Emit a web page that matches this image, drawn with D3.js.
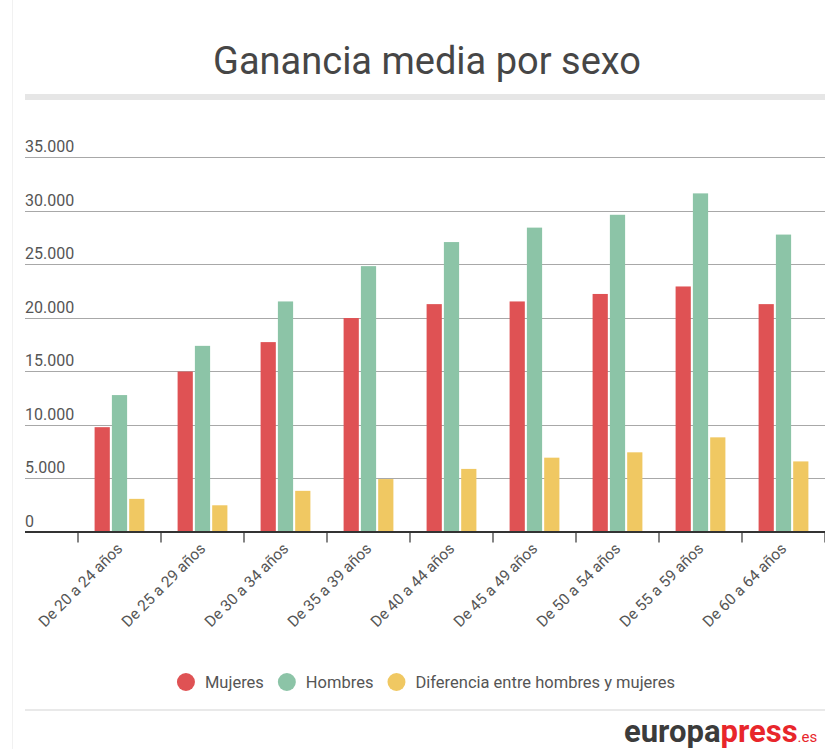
<!DOCTYPE html>
<html>
<head>
<meta charset="utf-8">
<script src="https://cdn.jsdelivr.net/npm/d3@7"></script>
<style>
  html, body { margin: 0; padding: 0; background: #fff; }
  svg { display: block; font-family: Roboto, "Noto Sans", sans-serif; }
</style>
</head>
<body>
<div id="main"></div>
<script>
// datos
const categories = ["De 20 a 24 años", "De 25 a 29 años", "De 30 a 34 años", "De 35 a 39 años",
    "De 40 a 44 años", "De 45 a 49 años", "De 50 a 54 años", "De 55 a 59 años", "De 60 a 64 años"];
const mujeres    = [9750, 14950, 17700, 19950, 21250, 21500, 22200, 22900, 21250];
const hombres    = [12750, 17350, 21500, 24800, 27050, 28400, 29600, 31600, 27750];
const diferencia = [3050, 2450, 3800, 4900, 5850, 6900, 7400, 8800, 6550];
const seriesNames = ["Mujeres", "Hombres", "Diferencia entre hombres y mujeres"];
const yTicks = [0, 5000, 10000, 15000, 20000, 25000, 30000, 35000];

const width = 825, height = 749;
const colors = ["#df5254", "#8cc4a7", "#f0c862"];

const locale = d3.formatLocale({ decimal: ",", thousands: ".", grouping: [3], currency: ["", "€"] });
const fmt = locale.format(",");

const svg = d3.select("#main").append("svg")
    .attr("width", width)
    .attr("height", height);

svg.append("rect").attr("width", width).attr("height", height).attr("fill", "#fff");

// borde izquierdo tenue
svg.append("line")
    .attr("x1", 12.5).attr("x2", 12.5)
    .attr("y1", 0).attr("y2", height)
    .attr("stroke", "#f1f1f1");

// titulo
svg.append("text")
    .attr("x", 427)
    .attr("y", 74)
    .attr("text-anchor", "middle")
    .attr("font-size", 38)
    .attr("fill", "#464646")
    .text("Ganancia media por sexo");

svg.append("rect")
    .attr("x", 25).attr("y", 94)
    .attr("width", 800).attr("height", 6)
    .attr("fill", "#e6e6e6");

let y = d3.scaleLinear()
    .domain([0, 35000])
    .range([531.5, 157]);

let x0 = d3.scaleBand()
    .domain(categories)
    .range([78, 825])
    .paddingInner(0.4)
    .paddingOuter(0.2);

let x1 = d3.scaleBand()
    .domain(d3.range(3))
    .range([0, x0.bandwidth()])
    .paddingInner(0.12);

// rejilla
let grid = svg.append("g").attr("class", "grid");
grid.selectAll("line")
    .data(yTicks.filter(d => d > 0))
    .enter()
    .append("line")
    .attr("x1", 25).attr("x2", width)
    .attr("y1", d => Math.round(y(d)) + 0.5)
    .attr("y2", d => Math.round(y(d)) + 0.5)
    .attr("stroke", "#a8a8a8");

grid.selectAll("text")
    .data(yTicks)
    .enter()
    .append("text")
    .attr("x", 25)
    .attr("y", d => y(d) - 5)
    .attr("font-size", 16)
    .attr("fill", "#555")
    .text(d => fmt(d));

// barras
let rows = categories.map((c, i) => ({ cat: c, values: [mujeres[i], hombres[i], diferencia[i]] }));

let group = svg.append("g")
    .selectAll("g")
    .data(rows)
    .enter()
    .append("g")
    .attr("transform", d => "translate(" + x0(d.cat) + ",0)");

group.selectAll("rect")
    .data(d => d.values)
    .enter()
    .append("rect")
    .attr("x", (d, i) => x1(i))
    .attr("width", x1.bandwidth())
    .attr("y", d => y(d))
    .attr("height", d => y(0) - y(d))
    .attr("fill", (d, i) => colors[i]);

// eje x
let step = x0.step();
let start = x0.range()[0];
svg.append("line")
    .attr("x1", 25).attr("x2", width)
    .attr("y1", y(0) + 0.5).attr("y2", y(0) + 0.5)
    .attr("stroke", "#333")
    .attr("stroke-width", 2);

svg.append("g")
    .selectAll("line")
    .data(d3.range(categories.length + 1))
    .enter()
    .append("line")
    .attr("x1", i => start + i * step)
    .attr("x2", i => start + i * step)
    .attr("y1", y(0))
    .attr("y2", y(0) + 11)
    .attr("stroke", "#333")
    .attr("stroke-width", 1.2);

svg.append("g")
    .selectAll("text")
    .data(categories)
    .enter()
    .append("text")
    .attr("transform", d => "translate(" + (x0(d) + x0.bandwidth() / 2 + 4) + "," + (y(0) + 18) + ") rotate(-45)")
    .attr("text-anchor", "end")
    .attr("font-size", 15.5)
    .attr("fill", "#555")
    .text(d => d);

// leyenda
let legend = svg.append("g");
let lx = 0;
let items = legend.selectAll("g")
    .data(seriesNames)
    .enter()
    .append("g");
items.append("circle")
    .attr("r", 9)
    .attr("fill", (d, i) => colors[i]);
items.append("text")
    .attr("x", 19)
    .attr("y", 5.5)
    .attr("font-size", 16.5)
    .attr("fill", "#555")
    .text(d => d);
items.each(function () {
    let g = d3.select(this);
    g.attr("transform", "translate(" + lx + ",0)");
    lx += 19 + g.select("text").node().getComputedTextLength() + 23;
});
let legendWidth = lx - 23 + 9;
legend.attr("transform", "translate(" + (426 - legendWidth / 2 + 9) + ",682)");

svg.append("line")
    .attr("x1", 25).attr("x2", width)
    .attr("y1", 710).attr("y2", 710)
    .attr("stroke", "#e2e2e2")
    .attr("stroke-width", 1.5);

// logo
let logo = svg.append("text")
    .attr("x", 624)
    .attr("y", 742)
    .attr("font-size", 31)
    .attr("font-weight", "bold");
logo.append("tspan").attr("fill", "#3b3b3b").text("europa");
logo.append("tspan").attr("fill", "#e8262b").text("press");
logo.append("tspan").attr("fill", "#e8262b").attr("font-size", 15).attr("font-weight", "normal").text(".es");
</script>
</body>
</html>
